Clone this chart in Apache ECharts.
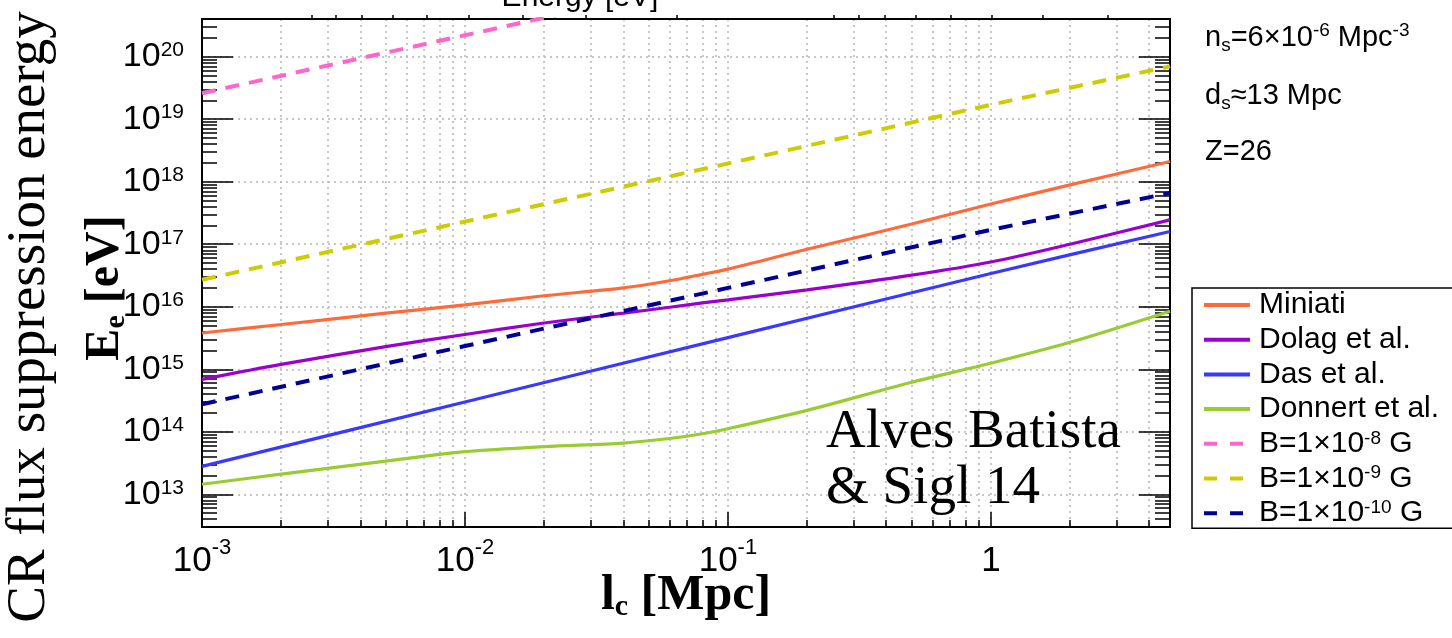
<!DOCTYPE html>
<html><head><meta charset="utf-8">
<script src="https://cdn.jsdelivr.net/npm/echarts@6/dist/echarts.min.js"></script>
<style>html,body{margin:0;padding:0;background:#fff}#c{width:1452px;height:638px}</style>
</head><body><div id="c"></div>
<script>
// ---- data ----
const lcCurve = [0.001, 0.002, 0.005, 0.01, 0.02, 0.04, 0.06, 0.08, 0.1, 0.2, 0.5, 1, 2, 4.8];
const lcLine  = [0.001, 0.01, 0.1, 1, 4.8];
const lcPink  = [0.001, 0.003, 0.01, 0.03];

const miniati = [3.8e15, 5.2e15, 7.9e15, 1.07e16, 1.5e16, 2.0e16, 2.6e16, 3.3e16, 4.0e16, 8.3e16, 2.1e17, 4.4e17, 8.9e17, 2.1e18];
const dolag   = [6.9e14, 1.2e15, 2.3e15, 3.6e15, 5.5e15, 7.9e15, 9.8e15, 1.15e16, 1.29e16, 1.86e16, 3.2e16, 5.2e16, 1.0e17, 2.45e17];
const donnert = [1.45e13, 2.1e13, 3.4e13, 4.8e13, 5.8e13, 6.6e13, 7.8e13, 9.3e13, 1.12e14, 2.2e14, 6.2e14, 1.25e15, 2.7e15, 8.5e15];
const das     = [2.8e13, 3.0e14, 3.2e15, 3.4e16, 1.6e17];
const bField8  = [2.6e19, 7.2e19, 2.2e20, 6.1e20];
const bField9  = [2.7e16, 2.3e17, 1.95e18, 1.7e19, 7.0e19];
const bField10 = [2.75e14, 2.35e15, 2.0e16, 1.7e17, 6.6e17];

const seriesNames = ['Miniati', 'Dolag et al.', 'Das et al.', 'Donnert et al.', 'B=1×10-8 G', 'B=1×10-9 G', 'B=1×10-10 G'];
const legendRich = {
  'Miniati': '{t|Miniati}',
  'Dolag et al.': '{t|Dolag et al.}',
  'Das et al.': '{t|Das et al.}',
  'Donnert et al.': '{t|Donnert et al.}',
  'B=1×10-8 G': '{t|B=1×10}{s|-8}{t| G}',
  'B=1×10-9 G': '{t|B=1×10}{s|-9}{t| G}',
  'B=1×10-10 G': '{t|B=1×10}{s|-10}{t| G}'
};

// ticks
const xMajorTicks = [0.001, 0.01, 0.1, 1];
const yMajorTicks = [1e13, 1e14, 1e15, 1e16, 1e17, 1e18, 1e19, 1e20];
const energyTicks = [2.62e-3, 3.23e-3, 4.06e-3, 5.33e-3, 7.17e-3, 1.03e-2, 1.66e-2, 2.88e-2, 6.40e-2,
                     0.253, 0.315, 0.395, 0.519, 0.705, 1.01, 1.58, 2.79];
const X_MIN = 0.001, X_MAX = 4.8, Y_MIN = 3e12, Y_MAX = 4e20;

function minorList(lo, hi, nFrom, nTo) {
  const out = [];
  for (let n = nFrom; n <= nTo; n++) for (let k = 2; k <= 9; k++) {
    const v = +(k * Math.pow(10, n)).toPrecision(6);
    if (v > lo && v < hi) out.push(v);
  }
  return out;
}
const xMinorTicks = minorList(X_MIN, X_MAX, -3, 0);
const yMinorTicks = minorList(Y_MIN, Y_MAX, 12, 20);

const zip = (xs, ys) => xs.map((x, i) => [x, ys[i]]);
const SANS = '"Liberation Sans", Arial, Helvetica, sans-serif';
const SERIF = '"Liberation Serif", "Times New Roman", serif';

function powLabel(v) {
  const e = Math.round(Math.log10(v));
  if (e === 0) return '{b|1}';
  return '{b|10}{s|' + e + '}';
}

const gridDot = { type: [2, 4], color: '#b5b5b5', width: 1.5 };
const black = { color: '#000', width: 2 };

function logAxisX(extra) {
  return Object.assign({
    type: 'log', logBase: 10, min: X_MIN, max: X_MAX, gridIndex: 0,
    axisLine: { show: false, onZero: false, lineStyle: black },
    axisLabel: { show: false }, splitLine: { show: false }, minorTick: { show: false }, minorSplitLine: { show: false }
  }, extra);
}
function logAxisY(extra) {
  return Object.assign({
    type: 'log', logBase: 10, min: Y_MIN, max: Y_MAX, gridIndex: 0,
    axisLine: { show: false, onZero: false, lineStyle: black },
    axisLabel: { show: false }, splitLine: { show: false }, minorTick: { show: false }, minorSplitLine: { show: false }
  }, extra);
}

const mkLine = (name, xs, ys, color, dashed) => ({
  name, type: 'line', data: zip(xs, ys), symbol: 'none', showSymbol: false,
  smooth: dashed ? false : 0.3, clip: true,
  lineStyle: { color, width: dashed ? 4 : 3.2, type: dashed ? [14, 10] : 'solid' },
  itemStyle: { color }, z: 3
});

const option = {
  animation: false,
  backgroundColor: '#fff',
  grid: { left: 202, right: 282, top: 19, bottom: 111, containLabel: false },
  xAxis: [
    logAxisX({ position: 'bottom',
      axisLine: { show: true, onZero: false, lineStyle: black },
      axisTick: { show: true, inside: true, length: 15, customValues: xMajorTicks, lineStyle: { color: '#000', width: 1.5 } },
      axisLabel: { show: true, customValues: xMajorTicks, formatter: powLabel, margin: 10, color: '#000',
        rich: { b: { fontSize: 35, lineHeight: 48, fontFamily: SANS, color: '#000' },
                s: { fontSize: 22, lineHeight: 22, verticalAlign: 'top', fontFamily: SANS, color: '#000' } } },
      splitLine: { show: true, lineStyle: gridDot } }),
    logAxisX({ position: 'bottom',
      axisTick: { show: true, inside: true, length: 7, customValues: xMinorTicks, lineStyle: { color: '#000', width: 1.5 } },
      splitLine: { show: true, lineStyle: gridDot } }),
    logAxisX({ position: 'top',
      axisLine: { show: true, onZero: false, lineStyle: black },
      axisTick: { show: true, inside: false, length: 4, customValues: energyTicks, lineStyle: { color: '#000', width: 1.5 } } })
  ],
  yAxis: [
    logAxisY({ position: 'left',
      axisLine: { show: true, onZero: false, lineStyle: black },
      axisTick: { show: true, inside: true, length: 31, customValues: yMajorTicks, lineStyle: { color: '#000', width: 1.5 } },
      axisLabel: { show: true, customValues: yMajorTicks, formatter: powLabel, margin: 18, color: '#000',
        rich: { b: { fontSize: 34, lineHeight: 34, fontFamily: SANS, color: '#000' },
                s: { fontSize: 21, lineHeight: 21, verticalAlign: 'top', fontFamily: SANS, color: '#000' } } },
      splitLine: { show: true, lineStyle: gridDot } }),
    logAxisY({ position: 'left',
      axisTick: { show: true, inside: true, length: 15, customValues: yMinorTicks, lineStyle: { color: '#000', width: 1.5 } } }),
    logAxisY({ position: 'right',
      axisLine: { show: true, onZero: false, lineStyle: black },
      axisTick: { show: true, inside: true, length: 31, customValues: yMajorTicks, lineStyle: { color: '#000', width: 1.5 } } }),
    logAxisY({ position: 'right',
      axisTick: { show: true, inside: true, length: 15, customValues: yMinorTicks, lineStyle: { color: '#000', width: 1.5 } } })
  ],
  legend: {
    orient: 'vertical', left: 1192, top: 288,
    padding: [2, 30, 0, 10], itemGap: 4.7, itemWidth: 46, itemHeight: 4,
    borderColor: '#000', borderWidth: 1.5, backgroundColor: '#fff',
    itemStyle: { opacity: 0, borderWidth: 0 },
    lineStyle: { width: 4 },
    data: seriesNames.map((n, i) => i >= 4 ? { name: n, lineStyle: { type: [13, 13], width: 4 } } : { name: n, lineStyle: { width: 4 } }),
    formatter: (name) => legendRich[name],
    textStyle: { color: '#000', fontFamily: SANS, fontSize: 30, lineHeight: 30, padding: [0, 0, 0, 4],
      rich: { t: { fontSize: 30, lineHeight: 30, fontFamily: SANS, color: '#000' },
              s: { fontSize: 19, lineHeight: 18, verticalAlign: 'top', fontFamily: SANS, color: '#000' } } }
  },
  series: [
    mkLine(seriesNames[0], lcCurve, miniati, '#ff6a3a', false),
    mkLine(seriesNames[1], lcCurve, dolag, '#9a00d0', false),
    mkLine(seriesNames[2], lcLine, das, '#3838ff', false),
    mkLine(seriesNames[3], lcCurve, donnert, '#99cc33', false),
    mkLine(seriesNames[4], lcPink, bField8, '#ff66cc', true),
    mkLine(seriesNames[5], lcLine, bField9, '#cccc00', true),
    mkLine(seriesNames[6], lcLine, bField10, '#000099', true)
  ],
  graphic: [
    { type: 'text', x: 30, y: 317, rotation: Math.PI / 2,
      style: { text: 'CR flux suppression energy', fontFamily: SERIF, fontSize: 55, fill: '#000',
        align: 'center', verticalAlign: 'middle', textAlign: 'center', textVerticalAlign: 'middle' } },
    { type: 'text', x: 106, y: 288, rotation: Math.PI / 2,
      style: { text: '{b|E}{sb|e}{b| [eV]}', fill: '#000',
        align: 'center', verticalAlign: 'middle', textAlign: 'center', textVerticalAlign: 'middle',
        rich: { b: { fontFamily: SERIF, fontWeight: 'bold', fontSize: 48, lineHeight: 50 },
                sb: { fontFamily: SERIF, fontWeight: 'bold', fontSize: 30, lineHeight: 20, verticalAlign: 'bottom' } } } },
    { type: 'text', x: 686, y: 596,
      style: { text: '{b|l}{sb|c}{b| [Mpc]}', fill: '#000',
        align: 'center', verticalAlign: 'middle', textAlign: 'center', textVerticalAlign: 'middle',
        rich: { b: { fontFamily: SERIF, fontWeight: 'bold', fontSize: 50, lineHeight: 52 },
                sb: { fontFamily: SERIF, fontWeight: 'bold', fontSize: 30, lineHeight: 20, verticalAlign: 'bottom' } } } },
    { type: 'text', x: 580, y: 13,
      style: { text: 'Energy [eV]', fontFamily: SANS, fontSize: 30, fill: '#000',
        align: 'center', verticalAlign: 'bottom', textAlign: 'center', textVerticalAlign: 'bottom' } },
    { type: 'text', x: 826, y: 405, z: 10,
      style: { text: 'Alves Batista\n& Sigl 14', fontFamily: SERIF, fontSize: 55, lineHeight: 56, fill: '#000',
        align: 'left', verticalAlign: 'top', textAlign: 'left', textVerticalAlign: 'top' } },
    { type: 'text', x: 1205, y: 38,
      style: { text: '{t|n}{sb|s}{t|=6×10}{sp|-6}{t| Mpc}{sp|-3}', fill: '#000',
        align: 'left', verticalAlign: 'middle', textAlign: 'left', textVerticalAlign: 'middle',
        rich: { t: { fontFamily: SANS, fontSize: 29, lineHeight: 34 },
                sp: { fontFamily: SANS, fontSize: 19, lineHeight: 18, verticalAlign: 'top' },
                sb: { fontFamily: SANS, fontSize: 19, lineHeight: 16, verticalAlign: 'bottom' } } } },
    { type: 'text', x: 1205, y: 96,
      style: { text: '{t|d}{sb|s}{t|≈13 Mpc}', fill: '#000',
        align: 'left', verticalAlign: 'middle', textAlign: 'left', textVerticalAlign: 'middle',
        rich: { t: { fontFamily: SANS, fontSize: 29, lineHeight: 34 },
                sb: { fontFamily: SANS, fontSize: 19, lineHeight: 16, verticalAlign: 'bottom' } } } },
    { type: 'text', x: 1205, y: 152,
      style: { text: 'Z=26', fontFamily: SANS, fontSize: 29, fill: '#000',
        align: 'left', verticalAlign: 'middle', textAlign: 'left', textVerticalAlign: 'middle' } }
  ]
};

const chart = echarts.init(document.getElementById('c'), null, { renderer: 'canvas' });
chart.setOption(option);
</script>
</body></html>
